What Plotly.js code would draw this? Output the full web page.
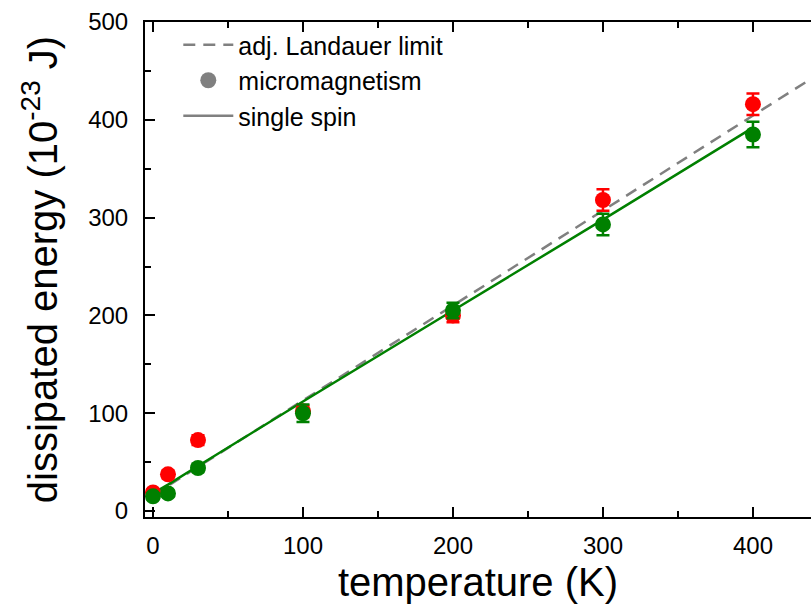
<!DOCTYPE html>
<html>
<head>
<meta charset="utf-8">
<script src="https://cdn.plot.ly/plotly-3.0.1.min.js"></script>
<style>html,body{margin:0;padding:0;background:#fff;overflow:hidden}</style>
</head>
<body>
<div id="chart" style="width:811px;height:609px"></div>
<script>
// temperatures (K)
const temps = [0, 10, 30, 100, 200, 300, 400];
// micromagnetism, red series (1e-23 J)
const redE = [19, 37.5, 72.5, 102, 200, 318, 416];
const redErr = [3, 4, 5, 6, 7, 11, 11];
// micromagnetism, green series
const greenE = [15, 18, 44, 100, 205, 293, 385];
const greenErr = [3, 3, 4, 9, 8, 11, 13];
// single spin model
const spinT = [0, 10, 30, 100, 200, 300, 400];
const spinE = [18, 27, 46, 112, 205, 298, 392];
// adjusted Landauer limit (straight line endpoints)
const landT = [0, 480];
const landE = [16, 482];

const font = "Liberation Sans, Arial, Helvetica, sans-serif";

const traces = [
  {x: landT, y: landE, mode: 'lines', name: 'adj. Landauer limit',
   line: {color: '#808080', width: 2.5, dash: '12px,8px'}, hoverinfo: 'skip'},
  {x: [null], y: [null], mode: 'markers', name: 'micromagnetism',
   marker: {color: '#808080', size: 16}},
  {x: [null], y: [null], mode: 'lines', name: 'single spin',
   line: {color: '#808080', width: 2.5}},
  {x: spinT, y: spinE, mode: 'lines', showlegend: false,
   line: {color: '#008000', width: 2.5}},
  {x: temps, y: redE, mode: 'markers', showlegend: false,
   marker: {color: '#ff0000', size: 16},
   error_y: {type: 'data', array: redErr, visible: true, color: '#ff0000', thickness: 2.5, width: 6.5}},
  {x: temps, y: greenE, mode: 'markers', showlegend: false,
   marker: {color: '#008000', size: 16},
   error_y: {type: 'data', array: greenErr, visible: true, color: '#008000', thickness: 2.5, width: 6.5}}
];

const layout = {
  width: 811, height: 609,
  margin: {l: 145, r: 0, t: 22, b: 92},
  paper_bgcolor: '#fff', plot_bgcolor: '#fff',
  font: {family: font, color: '#000', size: 24},
  showlegend: true,
  legend: {x: 0.05, y: 1.0, xanchor: 'left', yanchor: 'top',
           bgcolor: 'rgba(0,0,0,0)', font: {size: 25, family: font},
           itemwidth: 50, tracegroupgap: 0},
  xaxis: {
    range: [-5.33, 438.7], showgrid: false, zeroline: false,
    showline: true, linecolor: '#000', linewidth: 2, mirror: 'ticks',
    ticks: 'inside', ticklen: 10, tickwidth: 2, tickcolor: '#000',
    tickvals: [0, 100, 200, 300, 400],
    ticklabelstandoff: 6,
    minor: {tickvals: [50, 150, 250, 350, 450], ticks: 'inside', ticklen: 6, tickwidth: 2, tickcolor: '#000'},
    tickfont: {size: 24},
    title: {text: 'temperature (K)', font: {size: 40}, standoff: 10}
  },
  yaxis: {
    range: [-6.1, 500], showgrid: false, zeroline: false,
    showline: true, linecolor: '#000', linewidth: 2,
    ticks: 'inside', ticklen: 10, tickwidth: 2, tickcolor: '#000',
    tickvals: [0, 100, 200, 300, 400, 500],
    ticklabelstandoff: 10,
    minor: {tickvals: [50, 150, 250, 350, 450], ticks: 'inside', ticklen: 6, tickwidth: 2, tickcolor: '#000'},
    tickfont: {size: 24},
    title: {text: 'dissipated energy (10<sup>-23</sup> J)', font: {size: 40}, standoff: 18}
  }
};

Plotly.newPlot('chart', traces, layout, {displayModeBar: false, staticPlot: true});
</script>
</body>
</html>
